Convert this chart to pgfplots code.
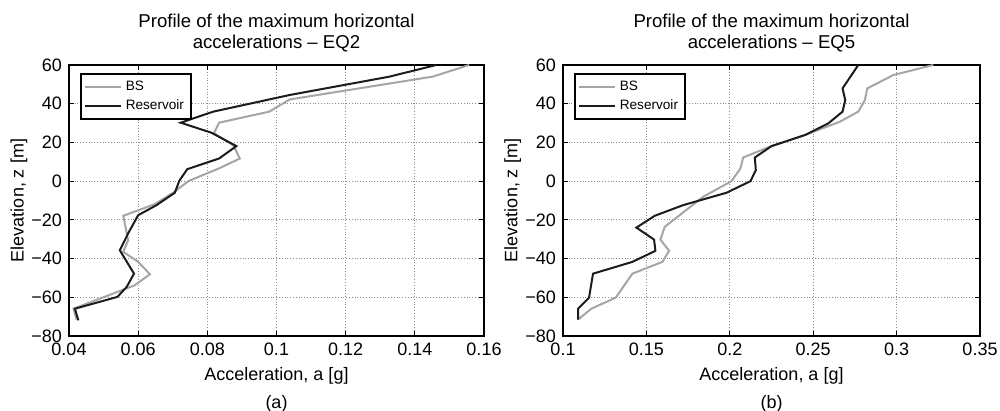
\documentclass[border=0pt]{standalone}
\usepackage{pgfplots}
\pgfplotsset{compat=1.18}
\usepackage{fontspec}
\setmainfont{Liberation Sans}

\definecolor{bsgray}{RGB}{165,165,165}
\definecolor{resblack}{RGB}{28,28,28}

\pgfplotsset{
  prof/.style={
    scale only axis,
    height=135.5pt,
    ymin=-80, ymax=60,
    ytick={-80,-60,-40,-20,0,20,40,60},
    yticklabels={−80,−60,−40,−20,0,20,40,60},
    grid=major,
    grid style={densely dotted, black!45, line width=0.45pt},
    axis line style={line width=0.8pt},
    tick style={black, line width=0.5pt},
    major tick length=2.5pt,
    tick label style={font=\fontsize{9}{10}\selectfont},
    title style={font=\fontsize{9.3}{10.5}\selectfont, align=center,
      at={(axis description cs:0.5,1)}, anchor=south, yshift=-3pt},
    xlabel style={font=\fontsize{9}{10}\selectfont,
      at={(axis description cs:0.5,-0.1624)}, anchor=base},
    ylabel style={font=\fontsize{9}{10}\selectfont,
      at={(axis description cs:-0.1205,0.5)}, anchor=center},
    xlabel={Acceleration, a [g]},
    ylabel={Elevation, z [m]},
    legend style={at={(axis description cs:0.0265,0.97)}, anchor=north west,
      font=\fontsize{6.8}{8}\selectfont, draw=black, line width=0.8pt,
      inner sep=1.5pt, row sep=-1pt},
    legend cell align=left,
    legend image code/.code={\draw[#1, line width=1pt] (0pt,0pt) -- (18pt,0pt);},
    every axis plot/.append style={line width=1pt},
  }
}

\begin{document}
\begin{tikzpicture}
\useasboundingbox (0,0) rectangle (500pt,-205.5pt);

% (a) EQ2
\begin{axis}[prof,
    at={(34.5pt,-32.5pt)}, anchor=north west,
    width=207.5pt,
    xmin=0.04, xmax=0.16,
    xtick={0.04,0.06,0.08,0.1,0.12,0.14,0.16},
    xticklabels={0.04,0.06,0.08,0.1,0.12,0.14,0.16},
    title={Profile of the maximum horizontal\\accelerations – EQ2},
    after end axis/.code={\node[font=\fontsize{9}{10}\selectfont, anchor=base]
      at (axis description cs:0.5,-0.2657) {(a)};},
]
\addplot[bsgray] coordinates {
  (0.1557,60) (0.1452,54) (0.1038,42.2) (0.0979,35.9) (0.0834,30.2)
  (0.0819,24.7) (0.0875,18.6) (0.0894,11.7) (0.0834,6.6) (0.0745,0)
  (0.0701,-6) (0.0648,-11.9) (0.0557,-17.9) (0.0571,-30.5) (0.0557,-36.5)
  (0.0600,-41.7) (0.0634,-48.1) (0.0590,-53.8) (0.0413,-65.9) (0.0422,-71.5)
};
\addplot[resblack] coordinates {
  (0.1462,60) (0.1327,54) (0.1038,44.5) (0.0817,35.9) (0.0723,30.2)
  (0.0812,25) (0.0884,18.1) (0.0834,11.7) (0.0742,6.2) (0.0719,0.2)
  (0.0706,-6) (0.0653,-12.4) (0.0600,-17.6) (0.0571,-27) (0.0547,-35.7)
  (0.0588,-47.8) (0.0567,-54.6) (0.0540,-59.8) (0.0417,-65.9) (0.0427,-71.9)
};
\legend{BS, Reservoir}
\end{axis}

% (b) EQ5
\begin{axis}[prof,
    at={(281.5pt,-32.5pt)}, anchor=north west,
    width=208.5pt,
    xmin=0.1, xmax=0.35,
    xtick={0.1,0.15,0.2,0.25,0.3,0.35},
    xticklabels={0.1,0.15,0.2,0.25,0.3,0.35},
    title={Profile of the maximum horizontal\\accelerations – EQ5},
    after end axis/.code={\node[font=\fontsize{9}{10}\selectfont, anchor=base]
      at (axis description cs:0.5,-0.2657) {(b)};},
]
\addplot[bsgray] coordinates {
  (0.322,60) (0.298,54.8) (0.2824,47.9) (0.281,41.9) (0.277,35.9)
  (0.266,30.7) (0.245,23.8) (0.224,17.8) (0.208,12.2) (0.2064,6.6)
  (0.201,0) (0.184,-8.1) (0.161,-23.6) (0.1584,-30.2) (0.1636,-36)
  (0.1596,-41.7) (0.1416,-47.8) (0.1316,-60.2) (0.117,-65.9) (0.109,-71.5)
};
\addplot[resblack] coordinates {
  (0.277,60) (0.2676,47.9) (0.2692,41.9) (0.2676,35.9) (0.259,29.8)
  (0.245,23.8) (0.225,18.1) (0.215,12.2) (0.2156,5.7) (0.2124,0)
  (0.198,-6) (0.172,-12.4) (0.155,-17.9) (0.144,-24) (0.1546,-30.2)
  (0.1554,-36) (0.1416,-41.7) (0.118,-47.8) (0.1156,-60.2) (0.109,-65.9)
  (0.109,-71.5)
};
\legend{BS, Reservoir}
\end{axis}
\end{tikzpicture}
\end{document}
